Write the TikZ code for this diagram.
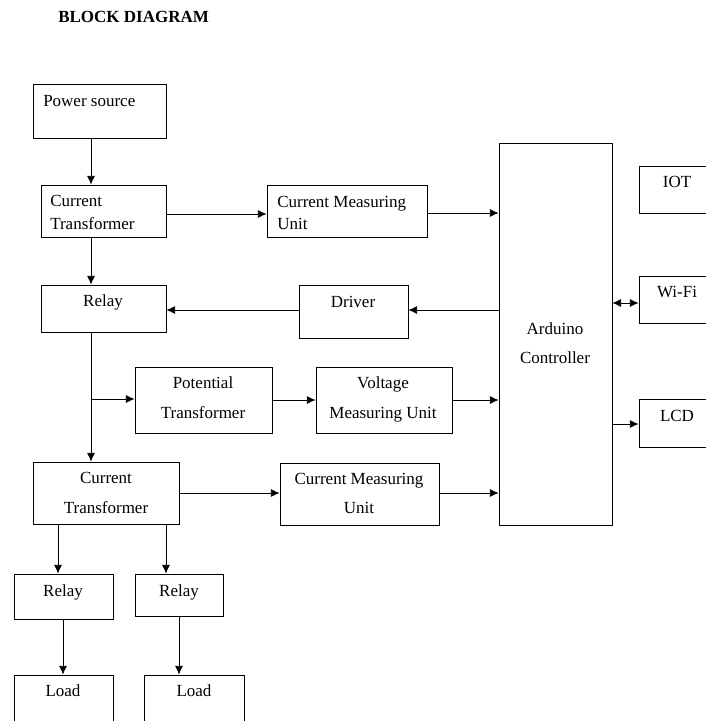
\documentclass[tikz,border=0pt]{standalone}
\usepackage{fontspec}
\setmainfont{Liberation Serif}
\usetikzlibrary{arrows.meta,fit}
\begin{document}
\begin{tikzpicture}[x=0.75pt,y=-0.75pt,
  box/.style={draw,line width=0.6pt,inner sep=0pt,rectangle},
  txt/.style={inner sep=0pt,font=\fontsize{12.75}{15}\selectfont},
  ttl/.style={inner sep=0pt,font=\fontsize{12.75}{15}\selectfont\bfseries},
  arr/.style={line width=0.6pt,-{Latex[length=6.5pt,width=6pt]}},
  darr/.style={line width=0.6pt,{Latex[length=6.5pt,width=6pt]}-{Latex[length=6.5pt,width=6pt]}},
  ln/.style={line width=0.6pt}]
\useasboundingbox (0,0) rectangle (706,721);
\clip (0,0) rectangle (706,721);
% title
\node[ttl,anchor=base west] (title) at (58,22) {BLOCK DIAGRAM};
% boxes
\node[box,fit={(33,84) (166,138)}] (ps) {};
\node[box,fit={(41,185) (166,237)}] (ct1) {};
\node[box,fit={(267,185) (427,237)}] (cmu1) {};
\node[box,fit={(499,143) (612,525)}] (ard) {};
\node[box,fit={(639,166) (712,213)}] (iot) {};
\node[box,fit={(639,276) (712,323)}] (wifi) {};
\node[box,fit={(639,399) (712,447)}] (lcd) {};
\node[box,fit={(41,285) (166,332)}] (r1) {};
\node[box,fit={(299,285) (408,338)}] (drv) {};
\node[box,fit={(135,367) (272,433)}] (pt) {};
\node[box,fit={(316,367) (452,433)}] (vmu) {};
\node[box,fit={(33,462) (179,524)}] (ct2) {};
\node[box,fit={(280,463) (439,525)}] (cmu2) {};
\node[box,fit={(14,574) (113,619)}] (r3) {};
\node[box,fit={(135,574) (223,616)}] (r4) {};
\node[box,fit={(14,675) (113,735)}] (ld1) {};
\node[box,fit={(144,675) (244,735)}] (ld2) {};
% texts
\node[txt,anchor=base west] (tps) at (43,106) {Power source};
\node[txt,anchor=base west] (tct1a) at (50,206) {Current};
\node[txt,anchor=base west] (tct1b) at (50,229) {Transformer};
\node[txt,anchor=base west] (tcm1a) at (277,207) {Current Measuring};
\node[txt,anchor=base west] (tcm1b) at (277,229) {Unit};
\node[txt,anchor=base] (tdrv) at (353,307) {Driver};
\node[txt,anchor=base] (tr1) at (103,306) {Relay};
\node[txt,anchor=base] (tarda) at (555,334) {Arduino};
\node[txt,anchor=base] (tardb) at (555,363) {Controller};
\node[txt,anchor=base] (tiot) at (677,187) {IOT};
\node[txt,anchor=base] (twifi) at (677,297) {Wi-Fi};
\node[txt,anchor=base] (tlcd) at (677,421) {LCD};
\node[txt,anchor=base] (tpta) at (203,388) {Potential};
\node[txt,anchor=base] (tptb) at (203,418) {Transformer};
\node[txt,anchor=base] (tvma) at (383,388) {Voltage};
\node[txt,anchor=base] (tvmb) at (383,418) {Measuring Unit};
\node[txt,anchor=base] (tct2a) at (106,483) {Current};
\node[txt,anchor=base] (tct2b) at (106,513) {Transformer};
\node[txt,anchor=base] (tcm2a) at (359,484) {Current Measuring};
\node[txt,anchor=base] (tcm2b) at (359,513) {Unit};
\node[txt,anchor=base] (tr3) at (63,596) {Relay};
\node[txt,anchor=base] (tr4) at (179,596) {Relay};
\node[txt,anchor=base] (tl1) at (63,696) {Load};
\node[txt,anchor=base] (tl2) at (194,696) {Load};
% helper coordinates
\coordinate (xa) at (91,0);
\coordinate (ya) at (0,214);
\coordinate (yb) at (0,213);
\coordinate (yc) at (0,310);
\coordinate (yd) at (0,400);
\coordinate (ye) at (0,493);
\coordinate (yw) at (0,303);
\coordinate (yl) at (0,424);
\coordinate (br) at (91,399);
\coordinate (x3) at (58,0);
\coordinate (x4) at (166,0);
\coordinate (x5) at (63,0);
\coordinate (x6) at (179,0);
% connectors
\draw[arr] (ps.south -| xa) -- (ct1.north -| xa);
\draw[arr] (ct1.south -| xa) -- (r1.north -| xa);
\draw[arr] (r1.south -| xa) -- (ct2.north -| xa);
\draw[arr] (br) -- (pt.west |- br);
\draw[arr] (ct1.east |- ya) -- (cmu1.west |- ya);
\draw[arr] (cmu1.east |- yb) -- (ard.west |- yb);
\draw[arr] (ard.west |- yc) -- (drv.east |- yc);
\draw[arr] (drv.west |- yc) -- (r1.east |- yc);
\draw[arr] (pt.east |- yd) -- (vmu.west |- yd);
\draw[arr] (vmu.east |- yd) -- (ard.west |- yd);
\draw[arr] (ct2.east |- ye) -- (cmu2.west |- ye);
\draw[arr] (cmu2.east |- ye) -- (ard.west |- ye);
\draw[darr] (ard.east |- yw) -- (wifi.west |- yw);
\draw[arr] (ard.east |- yl) -- (lcd.west |- yl);
\draw[arr] (ct2.south -| x3) -- (r3.north -| x3);
\draw[arr] (ct2.south -| x4) -- (r4.north -| x4);
\draw[arr] (r3.south -| x5) -- (ld1.north -| x5);
\draw[arr] (r4.south -| x6) -- (ld2.north -| x6);
\end{tikzpicture}
\end{document}
